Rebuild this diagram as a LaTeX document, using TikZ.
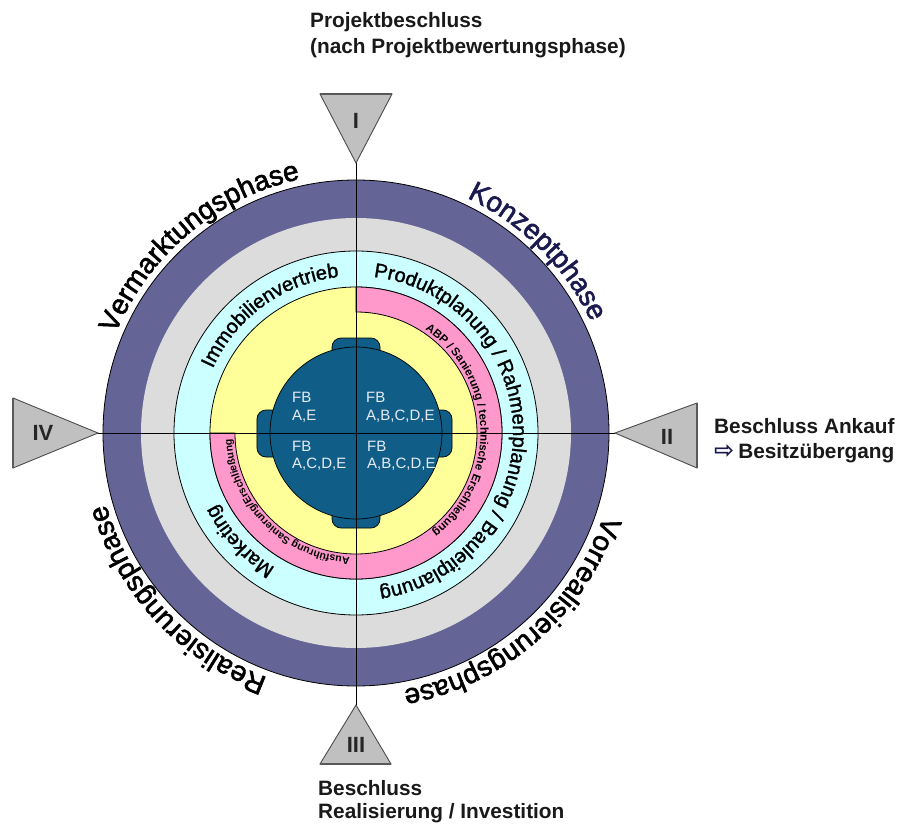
\documentclass[tikz,border=0pt]{standalone}
\usepackage{fontspec}
\setmainfont{Liberation Sans}
\newfontfamily\arrowfont{DejaVu Sans}
\newfontfamily\heavyfont[FakeBold=2]{Liberation Sans}
\newfontfamily\mediumfont[FakeBold=1.5]{Liberation Sans}
\usetikzlibrary{decorations.text}
\definecolor{ringpurple}{HTML}{646496}
\definecolor{ringgray}{HTML}{DCDCDC}
\definecolor{ringcyan}{HTML}{CCFFFF}
\definecolor{ringpink}{HTML}{FF99CC}
\definecolor{ringyellow}{HTML}{FFFF99}
\definecolor{coreblue}{HTML}{105E87}
\definecolor{navytext}{HTML}{1A1A4E}
\definecolor{trigray}{HTML}{C0C0C0}
\definecolor{coretext}{HTML}{E6ECF2}
\newcommand\phasefont{\heavyfont\fontsize{28}{28}\selectfont}
\newcommand\bandfont{\mediumfont\fontsize{20}{20}\selectfont}
\newcommand\pinkfont{\bfseries\fontsize{11.5}{11.5}\selectfont}
\newcommand\pinksmallfont{\bfseries\fontsize{10.5}{10.5}\selectfont}
\tikzset{
  ringline/.style={draw=black, line width=0.8pt},
  trianglebox/.style={fill=trigray, draw=black!70, line width=0.9pt, line join=miter},
  trianglebase/.style={draw=black!65, line width=1.8pt},
  romanlabel/.style={font=\fontsize{22}{22}\selectfont\bfseries, text=black!85, inner sep=0pt},
  notetext/.style={font=\fontsize{20.8}{20.8}\selectfont\bfseries, text=black!90, inner sep=0pt, anchor=base west},
  coretxt/.style={font=\fontsize{15}{15}\selectfont, text=coretext, inner sep=0pt, anchor=base west},
  bump/.style={fill=coreblue, draw=black, line width=0.7pt, rounded corners=9pt},
  crossline/.style={draw=black, line width=0.8pt}
}
\begin{document}
\begin{tikzpicture}[x=1pt,y=1pt]
\useasboundingbox (-356,-392) rectangle (548,433);
\fill[white] (-356,-392) rectangle (548,433);

% rings
\fill[ringpurple] (0,0) circle (253);
\fill[ringgray] (0,0) circle (215);
\draw[ringline] (0,0) circle (253);
\filldraw[fill=ringcyan, ringline] (0,0) circle (182);
\filldraw[fill=ringyellow, ringline] (0,0) circle (146);
\filldraw[fill=ringpink, ringline] (90:121) -- (90:146) arc[start angle=90, end angle=-180, radius=146]
  -- (180:121) arc[start angle=-180, end angle=90, radius=121] -- cycle;

% core
\draw[bump] (-24,70) rectangle (24,95);
\draw[bump] (-24,-95) rectangle (24,-70);
\draw[bump] (-99,-24) rectangle (-70,23);
\draw[bump] (70,-24) rectangle (96,23);
\filldraw[fill=coreblue, draw=black, line width=0.7pt] (0,0) circle (86);

% triangles
\coordinate (tipI) at (0,270);
\coordinate (tipII) at (259,0);
\coordinate (tipIII) at (0,-272);
\coordinate (tipIV) at (-258,0);
\coordinate (baseIa) at (-36,339);
\coordinate (baseIb) at (36,339);
\coordinate (baseIIa) at (341,30);
\coordinate (baseIIb) at (341,-35);
\coordinate (baseIIIa) at (-36,-331);
\coordinate (baseIIIb) at (35,-331);
\coordinate (baseIVa) at (-343,35);
\coordinate (baseIVb) at (-343,-35);
\draw[trianglebox] (baseIa) -- (baseIb) -- (tipI) -- cycle;
\draw[trianglebox] (baseIIa) -- (baseIIb) -- (tipII) -- cycle;
\draw[trianglebox] (baseIIIa) -- (baseIIIb) -- (tipIII) -- cycle;
\draw[trianglebox] (baseIVa) -- (baseIVb) -- (tipIV) -- cycle;
\draw[trianglebase] (baseIa) -- (baseIb);
\draw[trianglebase] (baseIIa) -- (baseIIb);
\draw[trianglebase] (baseIIIa) -- (baseIIIb);
\draw[trianglebase] (baseIVa) -- (baseIVb);
\node[romanlabel] (labI) at (0,312) {I};
\node[romanlabel] (labII) at (311,-4) {II};
\node[romanlabel] (labIII) at (0,-312) {III};
\node[romanlabel] (labIV) at (-313,0) {IV};

% cross lines
\draw[crossline] (tipI) -- (tipIII);
\draw[crossline] (tipIV) -- (tipII);

% outer phase texts
\path[decorate, decoration={text along path, text align=center, text={|\phasefont|Vermarktungsphase}}]
  (0,0) ++(190:260) arc[start angle=190, end angle=70, radius=260];
\path[decorate, decoration={text along path, text align=center, text={|\phasefont\color{navytext}|Konzeptphase}}]
  (0,0) ++(105:260) arc[start angle=105, end angle=-15, radius=260];
\path[decorate, decoration={text along path, text align=center, text={|\phasefont|Vorrealisierungsphase}}]
  (0,0) ++(21:261) arc[start angle=21, end angle=-119, radius=261];
\path[decorate, decoration={text along path, text align=center, text={|\phasefont|Realisierungsphase}}]
  (0,0) ++(293:260) arc[start angle=293, end angle=153, radius=260];

% cyan band texts
\path[decorate, decoration={text along path, text align=center, text={|\bandfont|Immobilienvertrieb}}]
  (0,0) ++(196:157) arc[start angle=196, end angle=56, radius=157];
\path[decorate, decoration={text along path, text align=center, text={|\bandfont|Produktplanung / Rahmenplanung / Bauleitplanung}}]
  (0,0) ++(101:157) arc[start angle=101, end angle=-99, radius=157];
\path[decorate, decoration={text along path, text align=center, text={|\bandfont|Marketing}}]
  (0,0) ++(283:157) arc[start angle=283, end angle=163, radius=157];

% pink band texts
\path[decorate, decoration={text along path, text align=center, text={|\pinkfont|ABP / Sanierung / technische Erschließung}}]
  (0,0) ++(82:124.5) arc[start angle=82, end angle=-78, radius=124.5];
\path[decorate, decoration={text along path, text align=center, text={|\pinksmallfont|Ausführung Sanierung/Erschließung}}]
  (0,0) ++(300:124.5) arc[start angle=300, end angle=150, radius=124.5];

% core texts
\node[coretxt] (tlA) at (-64,31) {FB};
\node[coretxt] (tlB) at (-64,13) {A,E};
\node[coretxt] (trA) at (10,31) {FB};
\node[coretxt] (trB) at (10,13) {A,B,C,D,E};
\node[coretxt] (blA) at (-64,-18) {FB};
\node[coretxt] (blB) at (-64,-35) {A,C,D,E};
\node[coretxt] (brA) at (11,-18) {FB};
\node[coretxt] (brB) at (11,-35) {A,B,C,D,E};

% annotations
\node[notetext] (topA) at (-46,405) {Projektbeschluss};
\node[notetext] (topB) at (-46,379) {(nach Projektbewertungsphase)};
\node[notetext] (rightA) at (358,0) {Beschluss Ankauf};
\node[notetext] (rightB) at (358,-25) {{\arrowfont\color{navytext}\fontsize{24}{24}\selectfont ⇨}\hspace{4pt}Besitzübergang};
\node[notetext] (botA) at (-38,-362) {Beschluss};
\node[notetext] (botB) at (-38,-385) {Realisierung / Investition};
\end{tikzpicture}
\end{document}
